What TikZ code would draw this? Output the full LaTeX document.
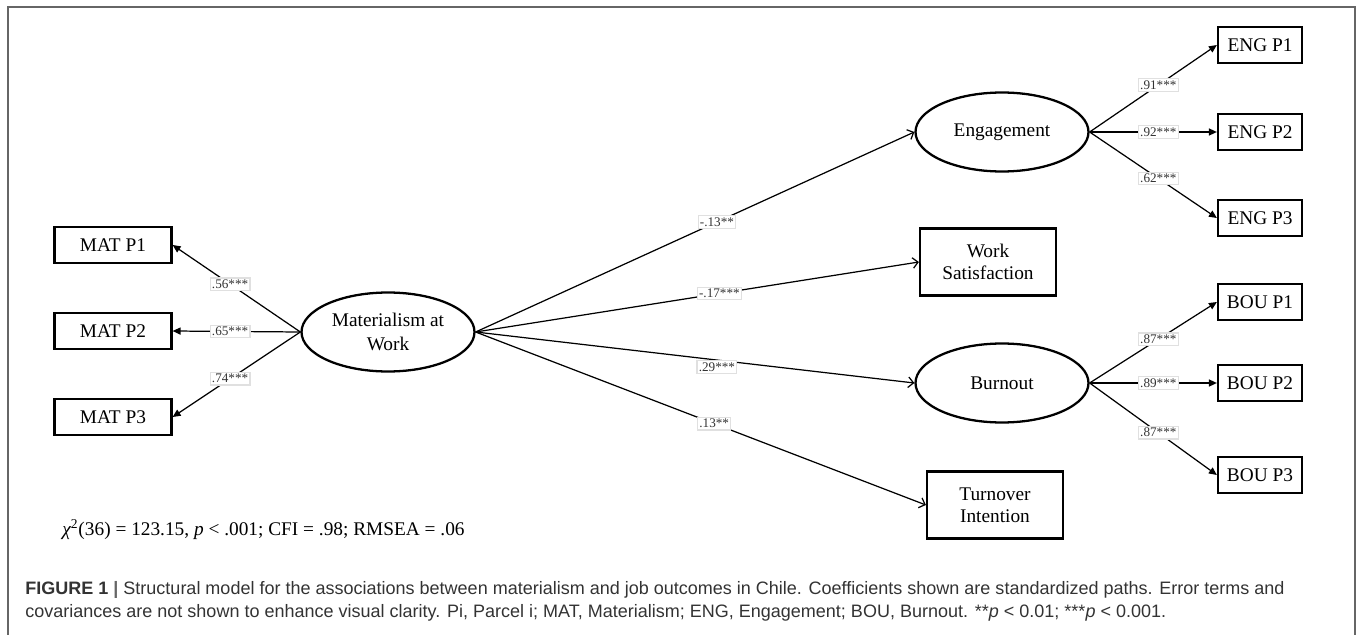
\documentclass[tikz,border=0pt]{standalone}
\usepackage{fontspec}
\setmainfont{Liberation Serif}
\newfontfamily\capfont{Liberation Sans}
\usetikzlibrary{shapes,arrows.meta}

\begin{document}
\begin{tikzpicture}[x=0.02cm,y=-0.02cm]
    \tikzstyle{latent}=[ellipse,draw,line width=1.3pt,minimum width=3.46cm,minimum height=1.58cm,inner sep=0pt,align=center,font=\fontsize{11}{13.5}\selectfont]
    \tikzstyle{indicator}=[rectangle,draw,line width=1.3pt,minimum width=2.34cm,minimum height=0.72cm,inner sep=0pt,font=\fontsize{11}{13}\selectfont]
    \tikzstyle{parcel}=[indicator,minimum width=1.68cm]
    \tikzstyle{outcome}=[indicator,minimum width=2.72cm,minimum height=1.34cm,align=center,font=\fontsize{11}{12.5}\selectfont]
    \tikzstyle{coef}=[draw=black!12,fill=white,inner sep=1pt,text=black!80,font=\fontsize{7.5}{8}\selectfont]
    \tikzstyle{load}=[-{Triangle[length=4.5pt,width=4pt]},line width=0.7pt]
    \tikzstyle{regress}=[-{Straight Barb[length=3pt,width=6pt]},line width=0.7pt]
    \tikzstyle{caption}=[anchor=west,inner sep=0pt,text=black!80,font=\capfont\fontsize{10.25}{12}\selectfont]
    \useasboundingbox (0,0) rectangle (1360,635);
    \draw[black!60,line width=0.8pt] (8,635) -- (8,7) -- (1355,7) -- (1355,635);
    % latent variables and outcomes
    \node[latent] (mat) at (388,332) {Materialism at\\Work};
    \node[latent] (eng) at (1002,132) {Engagement};
    \node[latent] (bou) at (1002,383) {Burnout};
    \node[outcome] (sat) at (988,262) {Work\\Satisfaction};
    \node[outcome] (turn) at (995,505) {Turnover\\Intention};
    % parcels
    \node[indicator] (mat1) at (113,245) {MAT P1};
    \node[indicator] (mat2) at (113,331) {MAT P2};
    \node[indicator] (mat3) at (113,417) {MAT P3};
    \node[parcel] (eng1) at (1260,45) {ENG P1};
    \node[parcel] (eng2) at (1260,132) {ENG P2};
    \node[parcel] (eng3) at (1260,218) {ENG P3};
    \node[parcel] (bou1) at (1260,302) {BOU P1};
    \node[parcel] (bou2) at (1260,383) {BOU P2};
    \node[parcel] (bou3) at (1260,475) {BOU P3};
    % loadings
    \draw[load] (mat.west) -- node[coef,pos=0.55]{.56***} (mat1.east);
    \draw[load] (mat.west) -- node[coef,pos=0.55]{.65***} (mat2.east);
    \draw[load] (mat.west) -- node[coef,pos=0.55]{.74***} (mat3.east);
    \draw[load] (eng.east) -- node[coef,pos=0.54]{.91***} (eng1.west);
    \draw[load] (eng.east) -- node[coef,pos=0.54]{.92***} (eng2.west);
    \draw[load] (eng.east) -- node[coef,pos=0.54]{.62***} (eng3.west);
    \draw[load] (bou.east) -- node[coef,pos=0.54]{.87***} (bou1.west);
    \draw[load] (bou.east) -- node[coef,pos=0.54]{.89***} (bou2.west);
    \draw[load] (bou.east) -- node[coef,pos=0.54]{.87***} (bou3.west);
    % structural paths
    \draw[regress] (mat.east) -- node[coef,pos=0.55]{-.13**} (eng.west);
    \draw[regress] (mat.east) -- node[coef,pos=0.55]{-.17***} (sat.west);
    \draw[regress] (mat.east) -- node[coef,pos=0.55,yshift=-4pt]{.29***} (bou.west);
    \draw[regress] (mat.east) -- node[coef,pos=0.53]{.13**} (turn.west);
    % fit and caption
    \node[anchor=west,inner sep=0pt,font=\fontsize{11}{13}\selectfont] (fit) at (62,530) {{\itshape χ}\textsuperscript{2}(36) = 123.15, {\itshape p} < .001; CFI = .98; RMSEA = .06};
    \node[caption] (cap1) at (25,590) {\textbf{FIGURE 1} {\color{black!60}\textbf{|}} Structural model for the associations between materialism and job outcomes in Chile. Coefficients shown are standardized paths. Error terms and};
    \node[caption] (cap2) at (25,613) {covariances are not shown to enhance visual clarity. Pi, Parcel i; MAT, Materialism; ENG, Engagement; BOU, Burnout. **{\itshape p} < 0.01; ***{\itshape p} < 0.001.};
\end{tikzpicture}
\end{document}
